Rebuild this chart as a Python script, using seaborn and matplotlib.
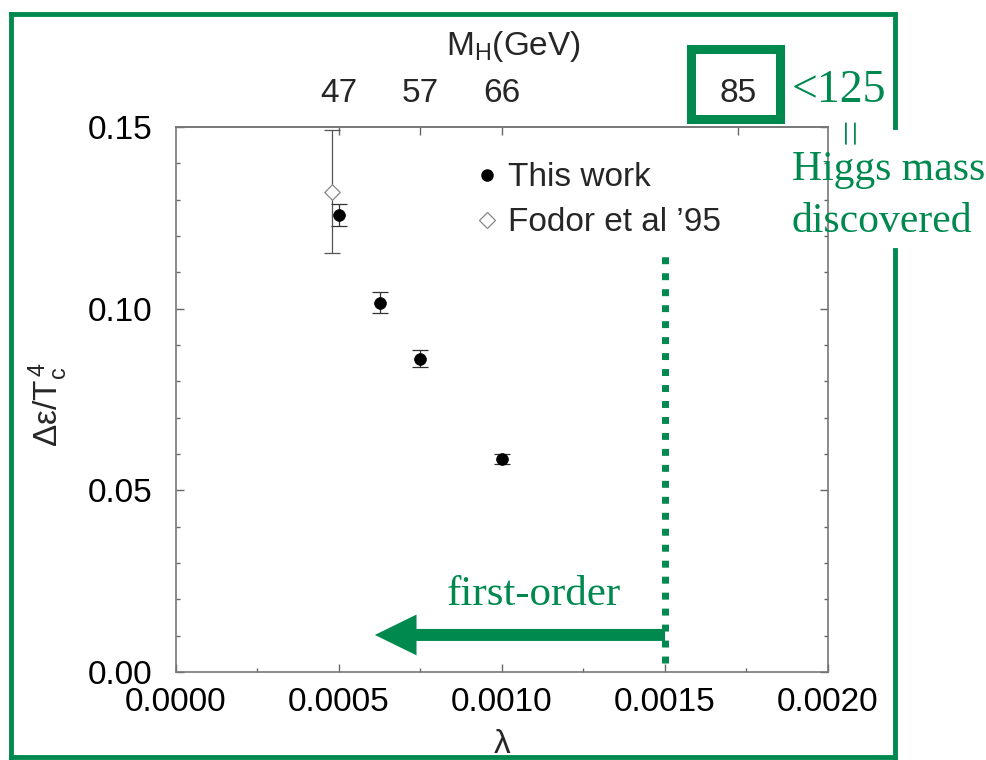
import matplotlib
matplotlib.use("Agg")
import matplotlib.pyplot as plt
import pandas as pd
import seaborn as sns
from matplotlib.lines import Line2D
from matplotlib.patches import Rectangle
from matplotlib.ticker import MultipleLocator

# latent heat data, "This work"
lam_this = [0.0005, 0.000625, 0.00075, 0.0010]
de_this = [0.1258, 0.1016, 0.0862, 0.0586]
err_this = [0.0031, 0.0029, 0.0023, 0.0013]

# Fodor et al '95
lam_fodor = [0.00048]
de_fodor = [0.1322]
err_fodor = [0.0170]

# top axis: Higgs mass (GeV) at given lambda
mh_lam = [0.0005, 0.00075, 0.0010, 0.001725]
mh_labels = ["47", "57", "66", "85"]

x_ticks = [0.0, 0.0005, 0.0010, 0.0015, 0.0020]
y_ticks = [0.00, 0.05, 0.10, 0.15]

# annotation: end of first-order region
lam_transition = 0.0015
dotted_span = [0.0025, 0.1148]
arrow_tip = 0.00061
arrow_y = 0.0102

GREEN = "#00894F"
W, H = 987, 760

sns.set_theme(style="ticks")
plt.rcParams["font.family"] = ["Liberation Sans", "DejaVu Sans"]
plt.rcParams["mathtext.fontset"] = "custom"
plt.rcParams["mathtext.rm"] = "Liberation Sans"
plt.rcParams["mathtext.it"] = "Liberation Sans"
plt.rcParams["mathtext.default"] = "regular"

fig = plt.figure(figsize=(W / 100, H / 100), dpi=100)
fig.patch.set_facecolor("white")
ax = fig.add_axes([176 / W, 1 - 672 / H, (828 - 176) / W, (672 - 127) / H])
ax.set_facecolor("white")


def px(x, y):
    # figure pixel -> figure fraction
    return x / W, 1 - y / H


this_df = pd.DataFrame({"lam": lam_this, "de": de_this})
fodor_df = pd.DataFrame({"lam": lam_fodor, "de": de_fodor})

ax.errorbar(lam_fodor, de_fodor, yerr=err_fodor, fmt="none", ecolor="#555555",
            elinewidth=0.9, capsize=5.5, capthick=0.9, zorder=2)
ax.errorbar(lam_this, de_this, yerr=err_this, fmt="none", ecolor="#333333",
            elinewidth=0.9, capsize=6, capthick=0.9, zorder=2)
sns.scatterplot(data=fodor_df, x="lam", y="de", marker="D", s=62, color="white",
                edgecolor="#888888", linewidth=0.9, ax=ax, zorder=3)
sns.scatterplot(data=this_df, x="lam", y="de", marker="o", s=72, color="black",
                edgecolor="black", linewidth=0.5, ax=ax, zorder=4)

ax.set_xlim(0, 0.002)
ax.set_ylim(0, 0.15)
ax.set_xticks(x_ticks, labels=[f"{v:.4f}" for v in x_ticks])
ax.set_yticks(y_ticks, labels=[f"{v:.2f}" for v in y_ticks])
ax.xaxis.set_minor_locator(MultipleLocator(0.00025))
ax.yaxis.set_minor_locator(MultipleLocator(0.01))
ax.tick_params(which="both", direction="in", top=False, right=True,
               color="#666666", width=1.0, labelsize=24, labelcolor="black")
ax.tick_params(which="major", length=6)
ax.tick_params(which="minor", length=3)
ax.tick_params(axis="x", pad=11)
ax.tick_params(axis="y", pad=17)
for sp in ax.spines.values():
    sp.set_color("#777777")
    sp.set_linewidth(1.2)

ax.set_xlabel("λ", fontsize=24)
ax.xaxis.set_label_coords(0.5, -0.105)
ax.set_ylabel(r"$\Delta\varepsilon/T_c^{\,4}$", fontsize=24)
ax.yaxis.set_label_coords(-0.163, 0.49)

sec = ax.secondary_xaxis("top")
sec.set_xticks(mh_lam, labels=mh_labels)
sec.tick_params(direction="in", length=6, width=1.0, color="#666666",
                pad=13, labelsize=24)
sec.spines["top"].set_color("#777777")
sec.spines["top"].set_linewidth(1.2)
fig.text(*px(513, 46), r"M$_H$(GeV)", fontsize=24, ha="center", va="center")

handles = [
    Line2D([], [], marker="o", ls="none", color="black", markersize=8),
    Line2D([], [], marker="D", ls="none", markerfacecolor="white",
           markeredgecolor="#888888", markeredgewidth=0.9, markersize=8),
]
ax.legend(handles, ["This work", "Fodor et al ’95"], loc="upper left",
          bbox_to_anchor=(0.4617, 0.935), frameon=False, fontsize=24,
          handlelength=0.6, handletextpad=0.33, borderpad=0, borderaxespad=0,
          labelspacing=0.42)

# green annotations
ax.vlines(lam_transition, dotted_span[0], dotted_span[1], colors=GREEN, lw=5,
          linestyles=[(0, (1, 1.3))], zorder=5)
ax.annotate("", xy=(arrow_tip, arrow_y), xytext=(lam_transition, arrow_y),
            arrowprops=dict(arrowstyle="simple,head_length=2.5,head_width=2.45,tail_width=0.72",
                            color=GREEN, lw=0, shrinkA=0, shrinkB=0),
            zorder=5)

serif = ["Liberation Serif", "DejaVu Serif"]
fig.text(*px(447, 605), "first-order", color=GREEN, fontsize=31, family=serif,
         ha="left", va="baseline")
fig.text(*px(792, 102), "<125", color=GREEN, fontsize=33, family=serif,
         ha="left", va="baseline", weight="normal")
fig.text(*px(853, 131), "=", color=GREEN, fontsize=34, family=serif,
         ha="center", va="center", rotation=90)
fig.text(*px(792, 180), "Higgs mass", color=GREEN, fontsize=30, family=serif,
         ha="left", va="baseline")
fig.text(*px(792, 232), "discovered", color=GREEN, fontsize=30, family=serif,
         ha="left", va="baseline")

# box round the 85 GeV tick label
x0, y0 = px(691, 119)
x1, y1 = px(780, 49)
fig.add_artist(Rectangle((x0, y0), x1 - x0, y1 - y0, transform=fig.transFigure,
                         fill=False, edgecolor=GREEN, lw=6.5))

# outer frame, right edge broken by the text
frame = [[(11, 14), (895, 14)], [(11, 14), (11, 757)], [(11, 757), (895, 757)],
         [(895, 14), (895, 127)], [(895, 250), (895, 757)]]
for (a, b) in frame:
    p, q = px(*a), px(*b)
    fig.add_artist(Line2D([p[0], q[0]], [p[1], q[1]], transform=fig.transFigure,
                          color=GREEN, lw=3.5, solid_capstyle="projecting"))

fig.savefig("out.png", dpi=100)
